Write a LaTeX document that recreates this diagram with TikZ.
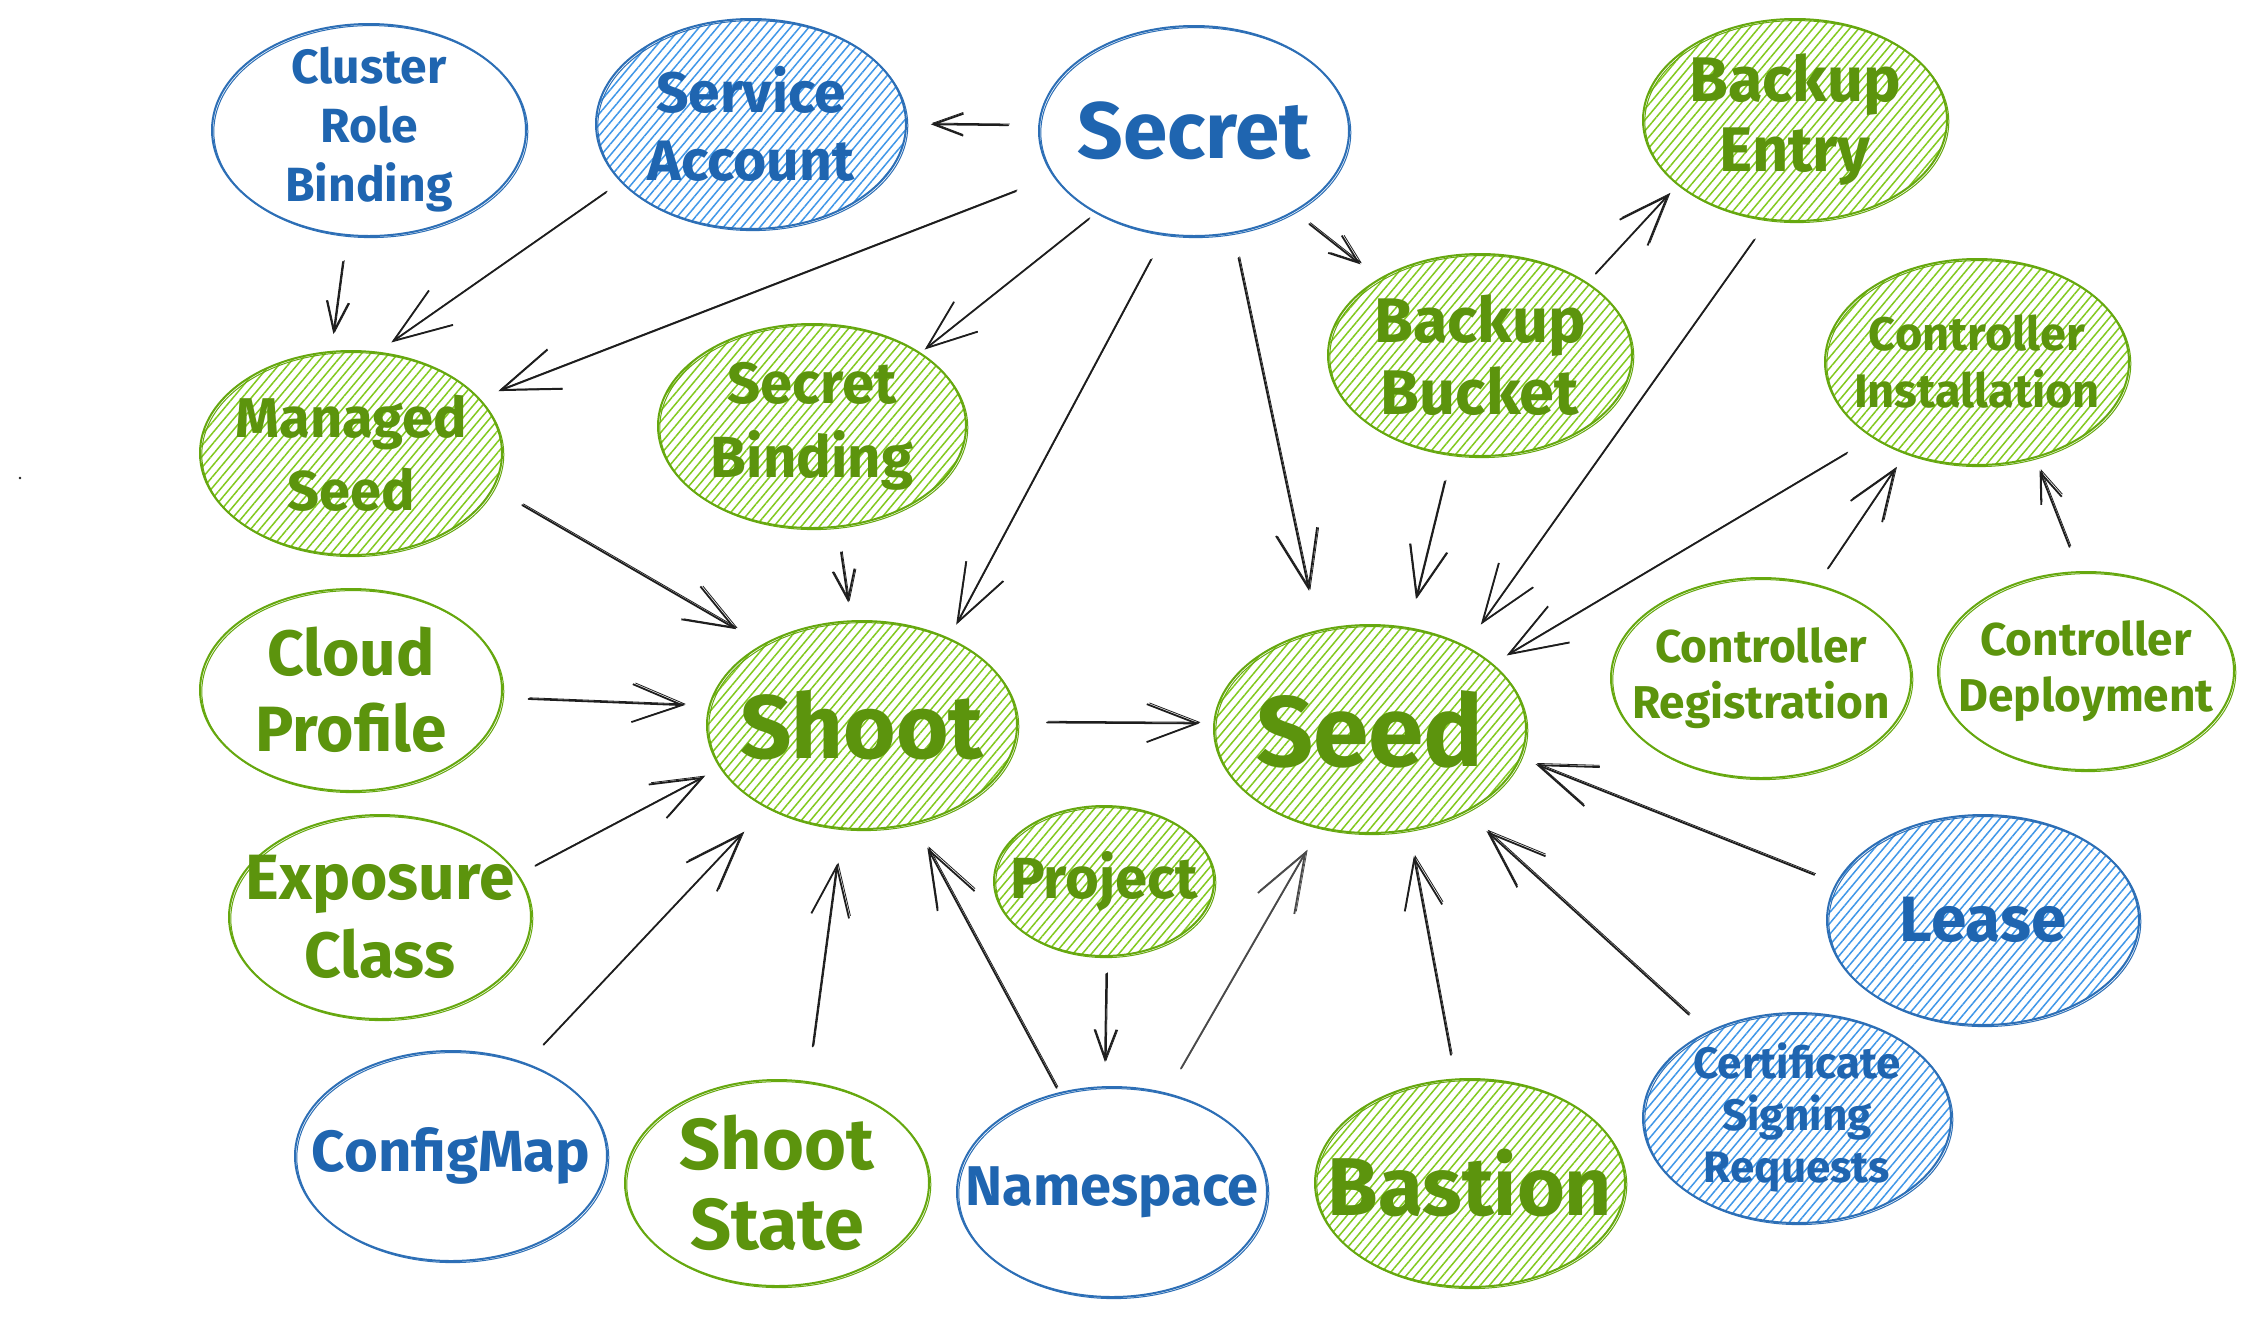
\documentclass[tikz,border=0pt]{standalone}
\usepackage{fontspec}
\setmainfont{Fira Sans}
\usetikzlibrary{shapes.geometric,arrows.meta,patterns.meta}
\definecolor{gtext}{HTML}{5C940D}
\definecolor{gline}{HTML}{66A80F}
\definecolor{ghatch}{HTML}{82C91E}
\definecolor{btext}{HTML}{1F65B0}
\definecolor{bline}{HTML}{2D6FB6}
\definecolor{bhatch}{HTML}{3F97E8}
\definecolor{ink}{HTML}{1E1E1E}
\definecolor{inkgrey}{HTML}{4A4A4A}
\newcommand\fs[2]{\bfseries\fontsize{#1}{#2}\selectfont}
\tikzset{
  ent/.style={ellipse, inner sep=0pt, line width=2pt,
    postaction={draw, line width=1pt, transform canvas={shift={(1.8pt,-1.6pt)}}}},
  gent/.style={ent, draw=gline},
  bent/.style={ent, draw=bline},
  ghat/.style={gent, pattern={Lines[angle=50,distance=7pt,line width=1.5pt]}, pattern color=ghatch},
  bhat/.style={bent, pattern={Lines[angle=50,distance=7pt,line width=1.5pt]}, pattern color=bhatch},
  gtxt/.style={text=gtext, align=center, inner sep=0pt},
  btxt/.style={text=btext, align=center, inner sep=0pt},
  arr/.style={draw=ink, line width=1.8pt, line cap=round,
    postaction={draw, line width=0.8pt, transform canvas={shift={(1.2pt,1.2pt)}}}},
  hs/.style={-{Straight Barb[length=30pt,width=22pt]}},
  hm/.style={-{Straight Barb[length=50pt,width=38pt]}},
  hl/.style={-{Straight Barb[length=58pt,width=42pt]}},
}
% name, position, rx, ry, ellipse style, text style, font, text
\newcommand\ent[8]{%
  \node[#5, minimum width={2*#3pt}, minimum height={2*#4pt}] (#1) at (#2) {};
  \node[#6, font={#7}] (#1t) at (#1) {#8};}
% from, angle, to, angle, shorten start, shorten end, extra style
\newcommand\conn[7]{\draw[arr, #7, shorten <=#5pt, shorten >=#6pt] (#1.#2) -- (#3.#4);}
\begin{document}
\begin{tikzpicture}[x=1pt, y=-1pt]
\fill[white] (0,0) rectangle (2254,1318);
\useasboundingbox (0,0) rectangle (2254,1318);

\ent{crb}{369,130}{157}{106}{bent}{btxt}{\fs{48}{59}}{Cluster\\Role\\Binding}
\ent{sa}{751,124}{155}{105}{bhat}{btxt}{\fs{57}{68}}{Service\\Account}
\ent{secret}{1194,131}{155}{105}{bent}{btxt}{\fs{80}{90}}{Secret}
\ent{ms}{351,453}{151}{102}{ghat}{gtxt}{\fs{56}{73}}{Managed\\Seed}
\ent{sb}{812,426}{154}{102}{ghat}{gtxt}{\fs{58}{74}}{Secret\\Binding}
\ent{be}{1795,120}{152}{101}{ghat}{gtxt}{\fs{63}{70}}{Backup\\Entry}
\ent{bb}{1480,355}{152}{101}{ghat}{gtxt}{\fs{63}{72}}{Backup\\Bucket}
\ent{ci}{1977,362}{152}{103}{ghat}{gtxt}{\fs{47}{57}}{Controller\\Installation}
\ent{cr}{1761,678}{150}{100}{gent}{gtxt}{\fs{46}{56}}{Controller\\Registration}
\ent{cd}{2086,671}{148}{99}{gent}{gtxt}{\fs{46}{56}}{Controller\\Deployment}
\ent{seed}{1370,729}{156}{104}{ghat}{gtxt}{\fs{100}{100}}{Seed}
\ent{shoot}{862,725}{155}{104}{ghat}{gtxt}{\fs{90}{96}}{Shoot}
\ent{cp}{351,690}{151}{101}{gent}{gtxt}{\fs{64}{76}}{Cloud\\Profile}
\ent{ec}{380,917}{151}{102}{gent}{gtxt}{\fs{64}{78}}{Exposure\\Class}
\ent{cm}{451,1156}{156}{105}{bent}{btxt}{\fs{58}{64}}{ConfigMap}
\ent{ss}{777,1183}{152}{103}{gent}{gtxt}{\fs{72}{80}}{Shoot\\State}
\ent{ns}{1112,1192}{155}{105}{bent}{btxt}{\fs{56}{62}}{Namespace}
\ent{project}{1104,881}{110}{75}{ghat}{gtxt}{\fs{58}{64}}{Project}
\ent{bastion}{1470,1183}{155}{104}{ghat}{gtxt}{\fs{82}{90}}{Bastion}
\ent{lease}{1983,920}{156}{105}{bhat}{btxt}{\fs{64}{70}}{Lease}
\ent{csr}{1797,1118}{154}{105}{bhat}{btxt}{\fs{44}{52}}{Certificate\\Signing\\Requests}

\node[circle, fill=ink, inner sep=1pt] (dot) at (20,478) {};

\conn{secret}{178}{sa}{0}{30}{24}{hs}
\conn{crb}{258}{ms}{101}{26}{17}{hs}
\conn{sa}{204}{ms}{75}{18}{16}{hl}
\conn{secret}{198}{ms}{23}{40}{20}{hl}
\conn{secret}{220}{sb}{34}{9}{5}{hm}
\conn{secret}{254}{shoot}{45}{28}{15}{hl}
\conn{ms}{346}{shoot}{141}{33}{30}{hm}
\conn{sb}{284}{shoot}{96}{25}{18}{hs}
\conn{secret}{291}{seed}{118}{25}{40}{hl}
\conn{secret}{321}{bb}{143}{19}{23}{hs}
\conn{bb}{34}{be}{209}{12}{12}{hm}
\conn{bb}{254}{seed}{69}{27}{29}{hm}
\conn{be}{255}{seed}{41}{24}{26}{hl}
\conn{ci}{216}{seed}{28}{30}{16}{hl}
\conn{cr}{59}{ci}{232}{19}{17}{hm}
\conn{cd}{94}{ci}{301}{26}{13}{hs}
\conn{cp}{357}{shoot}{173}{26}{24}{hm}
\conn{ec}{17}{shoot}{197}{19}{18}{hm}
\conn{cm}{51}{shoot}{221}{25}{34}{hl}
\conn{ss}{73}{shoot}{259}{35}{35}{hm}
\conn{ns}{118}{shoot}{298}{5}{27}{hl}
\conn{project}{272}{ns}{94}{17}{24}{hs}
\conn{shoot}{1}{seed}{178}{29}{14}{hm}
\conn{lease}{166}{seed}{349}{23}{16}{hl}
\conn{csr}{136}{seed}{319}{25}{28}{hl}
\conn{bastion}{98}{seed}{291}{24}{26}{hm}
\conn{ns}{61}{seed}{243}{28}{26}{hl,draw=inkgrey}
\end{tikzpicture}
\end{document}
